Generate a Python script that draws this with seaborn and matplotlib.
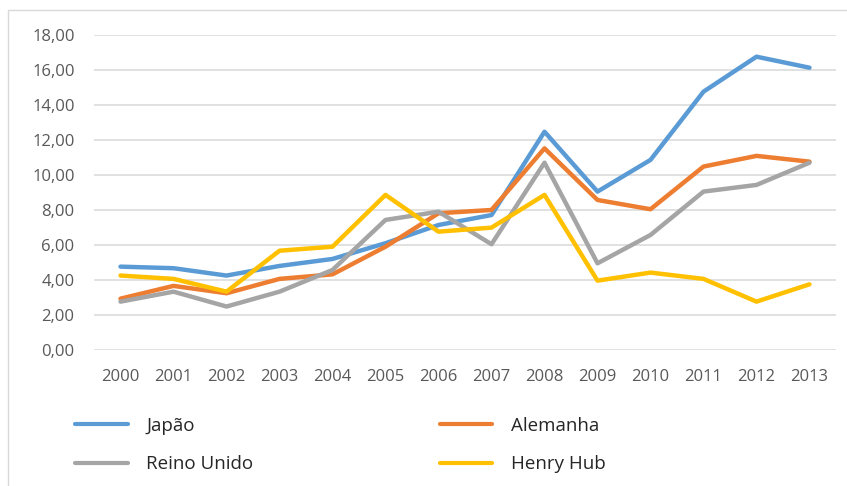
import numpy as np
import pandas as pd
import matplotlib
matplotlib.use("Agg")
import matplotlib.pyplot as plt
from matplotlib.lines import Line2D
import seaborn as sns

# ── Data ──────────────────────────────────────────────────────
years = [str(y) for y in range(2000, 2014)]
japao = [4.76, 4.67, 4.25, 4.80, 5.20, 6.10, 7.14, 7.71, 12.47, 9.05, 10.86, 14.76, 16.76, 16.13]
alemanha = [2.93, 3.66, 3.24, 4.06, 4.32, 5.90, 7.81, 8.00, 11.52, 8.57, 8.04, 10.48, 11.09, 10.76]
reino_unido = [2.76, 3.33, 2.48, 3.33, 4.57, 7.43, 7.90, 6.04, 10.70, 4.95, 6.57, 9.05, 9.43, 10.70]
henry_hub = [4.25, 4.06, 3.33, 5.67, 5.90, 8.86, 6.76, 6.99, 8.86, 3.96, 4.42, 4.06, 2.76, 3.75]

series_names = ["Japão", "Alemanha", "Reino Unido", "Henry Hub"]
colors = ["#5B9BD5", "#ED7D31", "#A5A5A5", "#FFC000"]

df = pd.DataFrame({"ano": years, "Japão": japao, "Alemanha": alemanha,
                   "Reino Unido": reino_unido, "Henry Hub": henry_hub})
long_df = df.melt(id_vars="ano", var_name="serie", value_name="preco")

# ── Plot ──────────────────────────────────────────────────────
sns.set_style("white")
plt.rcParams["font.family"] = ["Open Sans", "DejaVu Sans"]

fig = plt.figure(figsize=(8.47, 4.86), dpi=100)
ax = fig.add_axes([0.111, 0.280, 0.876, 0.648])

sns.lineplot(data=long_df, x="ano", y="preco", hue="serie", hue_order=series_names,
             palette=colors, linewidth=3.2, sort=False, legend=False, ax=ax)

ax.set_xlim(-0.5, len(years) - 0.5)
ax.set_ylim(0, 18)
yt = np.arange(0, 18.1, 2)
ax.set_yticks(yt)
ax.set_yticklabels([f"{v:.2f}".replace(".", ",") for v in yt])
ax.yaxis.grid(True, color="#D9D9D9", linewidth=1.1)
ax.set_axisbelow(True)
for s in ax.spines.values():
    s.set_visible(False)
ax.tick_params(axis="both", length=0, labelsize=12, colors="#595959")
ax.tick_params(axis="y", pad=14)
ax.tick_params(axis="x", pad=14)
ax.set_xlabel("")
ax.set_ylabel("")

# legend: two columns, Japão / Reino Unido | Alemanha / Henry Hub
order = [0, 2, 1, 3]
handles = [Line2D([], [], color=colors[i], linewidth=3.0) for i in order]
labels = [series_names[i] for i in order]
leg = fig.legend(handles, labels, ncol=2, loc="upper left",
                 bbox_to_anchor=(75 / 847, 1 - 417 / 486), frameon=False,
                 borderpad=0, borderaxespad=0,
                 handlelength=2.8, handletextpad=1.0, columnspacing=9.95,
                 labelspacing=1.07,
                 prop={"family": ["Open Sans", "DejaVu Sans"], "size": 13.5})

# chart frame
fig.add_artist(Line2D([8 / 847, 1], [1 - 10 / 486, 1 - 10 / 486],
                      transform=fig.transFigure, color="#D9D9D9", linewidth=1))
fig.add_artist(Line2D([8 / 847, 8 / 847], [0, 1 - 10 / 486],
                      transform=fig.transFigure, color="#D9D9D9", linewidth=1))

fig.savefig("out.png", dpi=100)
